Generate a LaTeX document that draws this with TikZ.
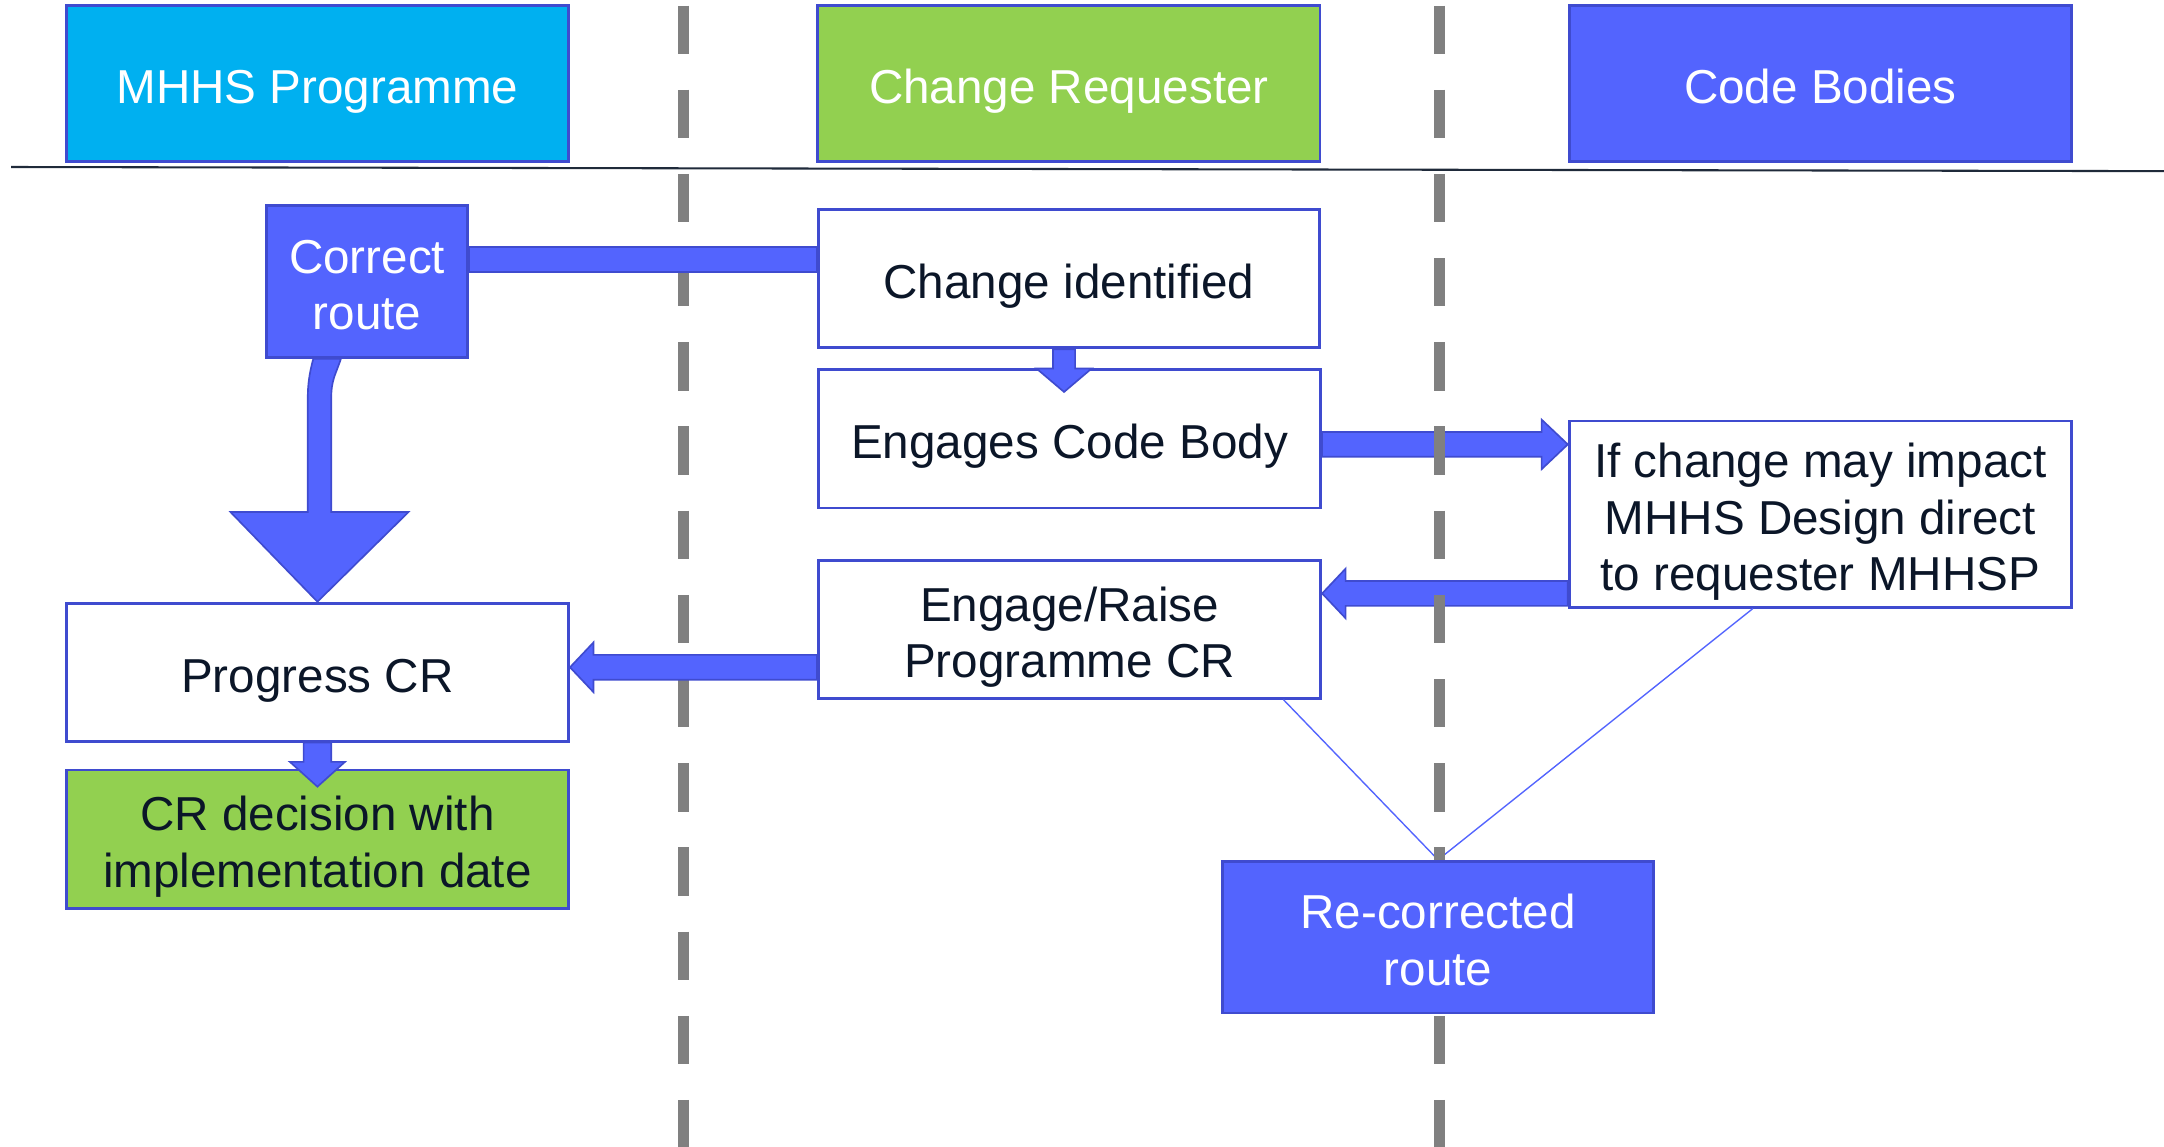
\documentclass[tikz,border=0pt]{standalone}
\usepackage{fontspec}
\setmainfont{Liberation Sans}
\usetikzlibrary{calc}
\pgfdeclarelayer{bg}
\pgfdeclarelayer{fg}
\pgfdeclarelayer{top}
\pgfsetlayers{bg,main,fg,top}
\definecolor{cyanf}{HTML}{00B0F0}
\definecolor{greenf}{HTML}{92D050}
\definecolor{bluef}{HTML}{5364FE}
\definecolor{bordc}{HTML}{3F4BCF}
\definecolor{txtc}{HTML}{0B1628}
\definecolor{lanec}{HTML}{808080}
\definecolor{rulec}{HTML}{1F2A3A}
\begin{document}
\begin{tikzpicture}[x=1pt,y=-1pt,
  base/.style={rectangle,draw=bordc,line width=2pt,inner sep=0pt,align=center,
    font=\fontsize{34.5}{41}\selectfont,text height=29pt,text depth=0pt},
  two/.style={text height=70pt},
  three/.style={text height=111pt},
  hdr/.style={base,text=white,minimum width=364pt,minimum height=113pt},
  wbox/.style={base,fill=white,text=txtc,minimum width=364pt,minimum height=100pt},
  bbox/.style={base,fill=bluef,text=white},
  gbox/.style={base,fill=greenf,text=txtc,minimum width=364pt,minimum height=100pt},
  barrow/.style={fill=bluef,draw=bordc,line width=1.2pt,line join=miter},
  lane/.style={draw=lanec,line width=8pt,dash pattern=on 35pt off 26pt},
  thin/.style={draw=bluef,line width=1pt}]
\useasboundingbox (0,0) rectangle (1568,831);
% headers
\node[hdr,fill=cyanf] (mhhs) at (230,60.5) {MHHS Programme};
\node[hdr,fill=greenf] (chreq) at (774.5,60.5) {Change Requester};
\node[hdr,fill=bluef] (codeb) at (1319,60.5) {Code Bodies};
\coordinate (rl) at (8,121);
\coordinate (rr) at (1568,124);
\draw[rulec,line width=1.5pt] (rl) -- (rr);
% nodes
\node[bbox,two,minimum width=146pt,minimum height=110pt] (correct) at (266,204) {Correct\\route};
\node[wbox,minimum width=363pt] (chid) at (774.5,202) {Change identified};
\node[wbox] (engcb) at (775,318) {Engages Code Body};
\node[wbox,three,minimum height=135pt] (ifch) at (1319,372.5) {If change may impact\\MHHS Design direct\\to requester MHHSP};
\node[wbox,two] (engr) at (775,456) {Engage/Raise\\Programme CR};
\node[wbox] (prog) at (230,487) {Progress CR};
\node[gbox,two] (crdec) at (230,608) {CR decision with\\implementation date};
\begin{pgfonlayer}{top}
\node[bbox,two,minimum width=312pt,minimum height=110pt] (recor) at (1042,679) {Re-corrected\\route};
\end{pgfonlayer}
% lanes
\coordinate (l1t) at (495,4);
\coordinate (l1b) at (495,831);
\coordinate (l2t) at (1043,4);
\coordinate (l2b) at (1043,831);
\begin{pgfonlayer}{bg}
\draw[lane] (l1t) -- (l1b);
\end{pgfonlayer}
\begin{pgfonlayer}{fg}
\draw[lane] (l2t) -- (l2b);
\end{pgfonlayer}
% bar correct route -- change identified
\filldraw[barrow] ($(correct.east)+(0,-25)$) rectangle ($(chid.west |- correct.east)+(0,-7)$);
% curved arrow correct route -> progress CR
\coordinate (tip2) at (prog.north);
\filldraw[barrow] ($(correct.south)+(-39,0)$) .. controls ($(correct.south)+(-42,11)$) and ($(tip2)+(-7,-157)$) .. ($(tip2)+(-7,-147)$)
  -- ($(tip2)+(-7,-65)$) -- ($(tip2)+(-63,-65)$) -- (tip2) -- ($(tip2)+(66,-65)$) -- ($(tip2)+(10,-65)$)
  -- ($(tip2)+(10,-147)$) .. controls ($(tip2)+(10,-161)$) and ($(correct.south)+(-23,12)$) .. ($(correct.south)+(-19,0)$) -- cycle;
% change identified -> engages
\coordinate (s3) at ($(chid.south)+(-3.5,0)$);
\coordinate (h3) at (s3 |- engcb.north);
\filldraw[barrow] ($(s3)+(-8,0)$) -- ($(h3)+(-8,0)$) -- ($(h3)+(-20,0)$) -- ($(h3)+(0,17)$)
  -- ($(h3)+(20,0)$) -- ($(h3)+(8,0)$) -- ($(s3)+(8,0)$) -- cycle;
% engages -> if change
\coordinate (s4) at ($(engcb.east)+(0,4)$);
\coordinate (t4) at (s4 -| ifch.west);
\filldraw[barrow] ($(s4)+(0,-9)$) -- ($(t4)+(-19,-9)$) -- ($(t4)+(-19,-18)$) -- (t4)
  -- ($(t4)+(-19,18)$) -- ($(t4)+(-19,9)$) -- ($(s4)+(0,9)$) -- cycle;
% if change -> engage/raise
\coordinate (s5) at ($(ifch.west)+(0,57.5)$);
\coordinate (t5) at (s5 -| engr.east);
\filldraw[barrow] ($(s5)+(0,-9)$) -- ($(t5)+(17,-9)$) -- ($(t5)+(17,-18)$) -- (t5)
  -- ($(t5)+(17,18)$) -- ($(t5)+(17,9)$) -- ($(s5)+(0,9)$) -- cycle;
% engage/raise -> progress CR
\coordinate (s6) at ($(engr.west)+(0,27.5)$);
\coordinate (t6) at (s6 -| prog.east);
\filldraw[barrow] ($(s6)+(0,-9)$) -- ($(t6)+(17,-9)$) -- ($(t6)+(17,-18)$) -- (t6)
  -- ($(t6)+(17,18)$) -- ($(t6)+(17,9)$) -- ($(s6)+(0,9)$) -- cycle;
% progress CR -> CR decision
\coordinate (s7) at (prog.south);
\coordinate (t7) at ($(crdec.north)+(0,13)$);
\filldraw[barrow] ($(s7)+(-10,0)$) -- ($(t7)+(-10,-18)$) -- ($(t7)+(-20,-18)$) -- (t7)
  -- ($(t7)+(20,-18)$) -- ($(t7)+(10,-18)$) -- ($(s7)+(10,0)$) -- cycle;
% thin lines to re-corrected route
\coordinate (a8) at ($(engr.south)+(155,0)$);
\coordinate (a9) at ($(ifch.south)+(-49,0)$);
\draw[thin] (a8) -- (recor.north);
\draw[thin] (a9) -- (recor.north);
\end{tikzpicture}
\end{document}
